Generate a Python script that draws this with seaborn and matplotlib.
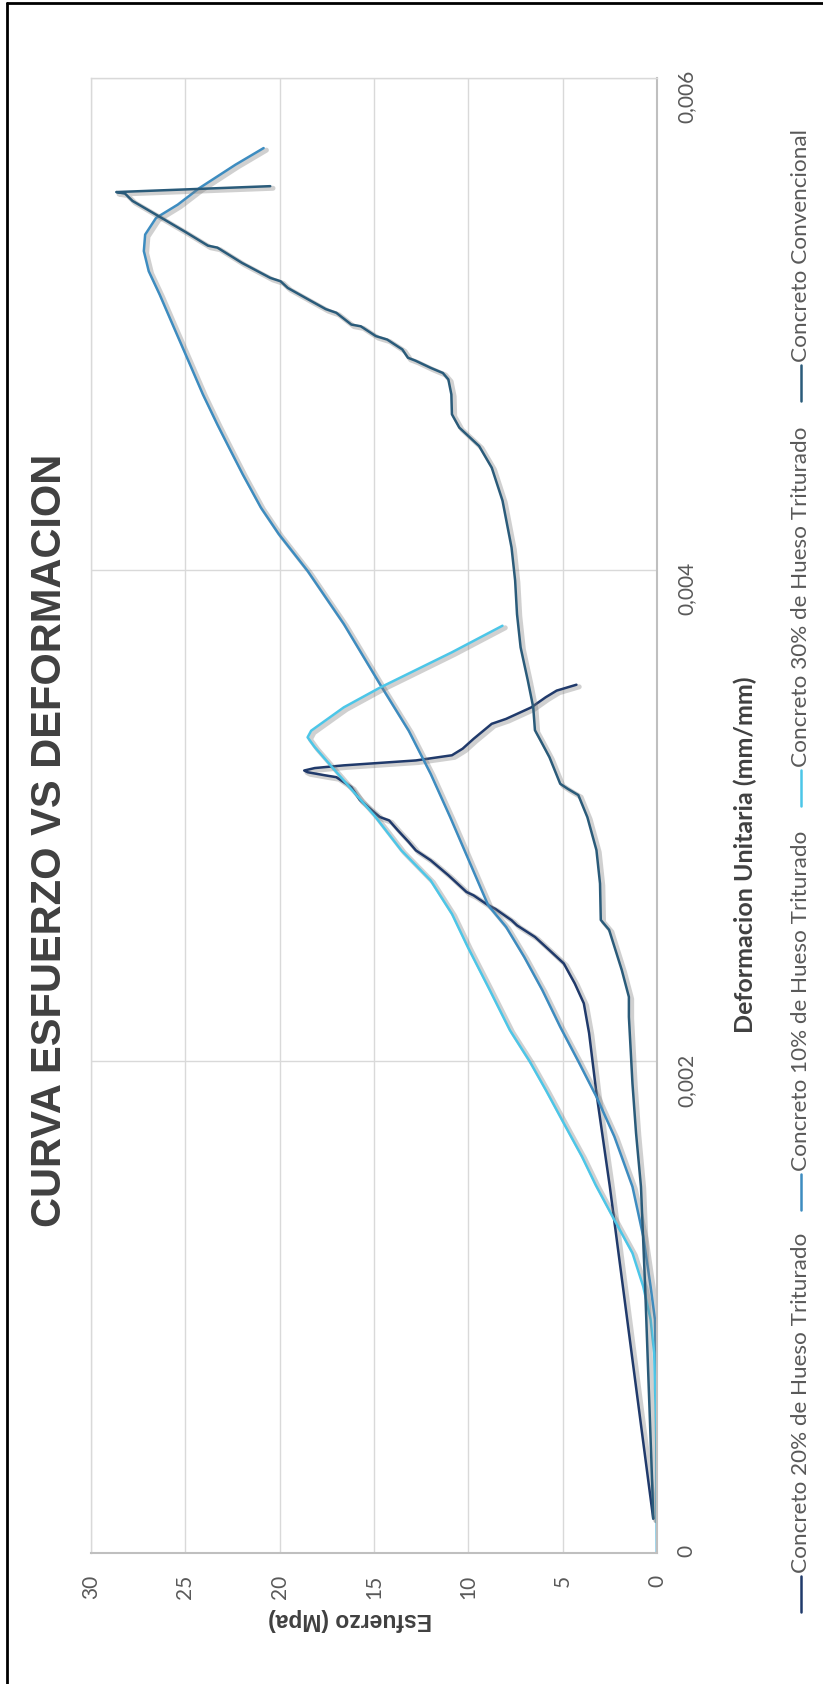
import matplotlib
matplotlib.use("Agg")
import matplotlib.pyplot as plt
import matplotlib.patheffects as pe
from matplotlib.lines import Line2D
import numpy as np
import pandas as pd
import seaborn as sns

# ---- data: stress (MPa) and unit strain (mm/mm) for each mix ----
series_names = [
    "Concreto 20% de Hueso Triturado",
    "Concreto 10% de Hueso Triturado",
    "Concreto 30% de Hueso Triturado",
    "Concreto Convencional",
]

stress_20 = [0.2, 2.5, 3.21, 3.6, 3.88, 4.36, 4.94, 5.7, 6.47, 7.42, 7.71, 8.57, 8.95,
             9.72, 10.1, 10.48, 11.06, 12.0, 12.78, 13.16, 13.74, 14.2, 14.7, 15.75,
             16.2, 17.0, 17.56, 18.52, 18.7, 18.14, 16.6, 12.78, 10.87, 10.3, 9.72,
             8.76, 8.0, 6.66, 5.9, 5.32, 4.27]
strain_20 = [0.00014, 0.00149, 0.00187, 0.002115, 0.002236, 0.002317, 0.002398,
             0.002452, 0.002506, 0.002553, 0.002574, 0.00262, 0.002635, 0.002675,
             0.002689, 0.002716, 0.002757, 0.002818, 0.002858, 0.002892, 0.00294,
             0.00298, 0.002994, 0.003063, 0.003115, 0.003156, 0.003163, 0.003176,
             0.003183, 0.003193, 0.003204, 0.003224, 0.003245, 0.003272, 0.003312,
             0.003373, 0.003393, 0.00344, 0.003481, 0.003508, 0.003532]

stress_10 = [0.0, 0.02, 0.11, 0.34, 0.73, 1.3, 2.26, 3.21, 4.17, 5.13, 6.08, 7.04,
             8.0, 8.95, 10.96, 12.0, 13.16, 14.69, 16.6, 18.52, 20.05, 21.0, 21.96,
             22.68, 23.3, 24.07, 24.83, 25.6, 26.36, 26.94, 27.2, 27.13, 26.55, 25.4,
             24.26, 22.35, 20.85]
strain_10 = [0.0, 0.0006, 0.00095, 0.001084, 0.001288, 0.00149, 0.001694, 0.001856,
             0.002, 0.00214, 0.00229, 0.002425, 0.002547, 0.002635, 0.002993, 0.00317,
             0.003345, 0.003535, 0.003779, 0.003995, 0.004145, 0.004253, 0.004388,
             0.004496, 0.00459, 0.004713, 0.004848, 0.004984, 0.005119, 0.005214,
             0.005296, 0.005363, 0.005431, 0.005485, 0.005552, 0.005647, 0.005715]

stress_30 = [0.0, 0.02, 0.06, 0.15, 0.34, 0.73, 1.3, 2.26, 3.25, 3.98, 4.94, 5.89,
             6.75, 7.8, 8.95, 10.03, 10.87, 12.0, 13.55, 14.98, 15.84, 16.6, 17.37,
             18.14, 18.52, 18.33, 16.6, 14.69, 10.87, 8.19]
strain_30 = [0.0, 0.00035, 0.000544, 0.000813, 0.00095, 0.001084, 0.00122, 0.001355,
             0.001497, 0.001613, 0.001748, 0.001883, 0.002, 0.002127, 0.002303,
             0.002465, 0.0026, 0.002736, 0.002858, 0.003, 0.003075, 0.003142, 0.00321,
             0.003278, 0.003318, 0.003345, 0.00344, 0.00352, 0.003664, 0.003772]

stress_conv = [0.2, 0.25, 0.44, 0.63, 0.85, 1.11, 1.30, 1.49, 1.49, 1.87, 2.54, 2.98,
               3.02, 3.21, 3.69, 4.17, 4.74, 5.13, 5.70, 6.18, 6.47, 6.56, 6.85, 7.23,
               7.42, 7.52, 7.71, 8.19, 8.76, 9.43, 10.48, 10.87, 10.9, 11.06, 11.35,
               12.0, 12.8, 13.2, 13.5, 14.3, 14.9, 15.7, 16.2, 17.0, 17.56, 18.5, 19.57,
               19.95, 20.5, 22.0, 23.3, 23.8, 25.0, 26.55, 27.8, 28.2, 28.66, 20.5]
strain_conv = [0.00014, 0.000272, 0.000678, 0.001084, 0.00149, 0.001707, 0.001909,
               0.002181, 0.002262, 0.002372, 0.002535, 0.002575, 0.002723, 0.002859,
               0.002993, 0.003083, 0.003109, 0.003129, 0.003237, 0.003306, 0.003347,
               0.00344, 0.00355, 0.003684, 0.003819, 0.003956, 0.00409, 0.004281,
               0.004415, 0.004503, 0.004578, 0.004632, 0.004713, 0.004774, 0.0048,
               0.004821, 0.00485, 0.004862, 0.004896, 0.004936, 0.00495, 0.00499,
               0.004997, 0.005045, 0.00506, 0.0051, 0.005146, 0.005173, 0.005187,
               0.005248, 0.00531, 0.005318, 0.005374, 0.005444, 0.0055, 0.00553,
               0.005536, 0.00556]

stress_ticks = [0, 5, 10, 15, 20, 25, 30]
stress_tick_labels = ["0", "5", "10", "15", "20", "25", "30"]
strain_ticks = [0.0, 0.002, 0.004, 0.006]
strain_tick_labels = ["0", "0,002", "0,004", "0,006"]

title_text = "CURVA ESFUERZO VS DEFORMACION"
stress_label = "Esfuerzo (Mpa)"
strain_label = "Deformacion Unitaria (mm/mm)"

colors = ["#203A6B", "#3D8CC0", "#4CC6E8", "#2A5B7A"]

# ---- long table for seaborn ----
frames = []
for name, s, e in zip(series_names,
                      [stress_20, stress_10, stress_30, stress_conv],
                      [strain_20, strain_10, strain_30, strain_conv]):
    frames.append(pd.DataFrame({"serie": name, "esfuerzo": s, "deformacion": e}))
data = pd.concat(frames, ignore_index=True)

sns.set_style("white")
plt.rcParams["font.family"] = ["Lato", "DejaVu Sans"]

W, H = 823, 1684
fig = plt.figure(figsize=(W / 100, H / 100), dpi=100)

def fx(px):
    return px / W

def fy(py):
    return 1 - py / H

# plot area: stress runs right-to-left, strain bottom-to-top
left, right, top, bottom = 91, 657, 78, 1553
ax = fig.add_axes([fx(left), fy(bottom), fx(right - left), (bottom - top) / H])

shadow = [pe.SimpleLineShadow(offset=(2.0, -1.5), shadow_color="#7a7a7a", alpha=0.35,
                              linewidth=3.6),
          pe.Normal()]

sns.lineplot(data=data, x="esfuerzo", y="deformacion", hue="serie",
             hue_order=series_names, palette=colors, units="serie",
             estimator=None, sort=False, legend=False, linewidth=1.8,
             path_effects=shadow, ax=ax)

ax.set_xlim(30, 0)
ax.set_ylim(0, 0.006)
ax.set_xticks(stress_ticks)
ax.set_xticklabels(stress_tick_labels)
ax.set_yticks(strain_ticks)
ax.set_yticklabels(strain_tick_labels)
ax.yaxis.tick_right()
ax.set_xlabel("")
ax.set_ylabel("")
ax.grid(True, color="#D9D9D9", linewidth=1.0)
ax.set_axisbelow(True)
for side in ["left", "top"]:
    ax.spines[side].set_color("#D9D9D9")
    ax.spines[side].set_linewidth(1.0)
for side in ["right", "bottom"]:
    ax.spines[side].set_color("#BFBFBF")
    ax.spines[side].set_linewidth(1.5)
ax.tick_params(axis="both", length=0, labelsize=15, labelcolor="#595959")
ax.tick_params(axis="x", pad=16, labelrotation=90)
ax.tick_params(axis="y", pad=14, labelrotation=90)

# titles
sans_bold = ["Liberation Sans", "DejaVu Sans"]
fig.text(fx(50), fy(840), title_text, rotation=90, ha="center", va="center",
         fontsize=30, fontweight="bold", color="#404040", family=sans_bold)
fig.text(fx(350), fy(1620), stress_label, rotation=180, ha="center", va="center",
         fontsize=16.5, fontweight="bold", color="#404040", family=sans_bold)
fig.text(fx(745), fy(855), strain_label, rotation=90, ha="center", va="center",
         fontsize=18, fontweight="bold", color="#404040")

# legend, read bottom-to-top
legend_x = 801
legend_lines = [(1612, 1576), (1210, 1174), (806, 770), (401, 365)]
for name, color, (y0, y1) in zip(series_names, colors, legend_lines):
    fig.add_artist(Line2D([fx(legend_x), fx(legend_x)], [fy(y0), fy(y1)],
                          color=color, linewidth=1.8, transform=fig.transFigure))
    fig.text(fx(legend_x), fy(y1 - 3), name, rotation=90, ha="center", va="bottom",
             fontsize=16.2, color="#595959")

# outer frame
fig.add_artist(Line2D([fx(7), fx(7)], [0, fy(3)], color="black", linewidth=2,
                      transform=fig.transFigure))
fig.add_artist(Line2D([fx(7), 1], [fy(3), fy(3)], color="black", linewidth=2,
                      transform=fig.transFigure))

fig.savefig("out.png", dpi=100, facecolor="white")
